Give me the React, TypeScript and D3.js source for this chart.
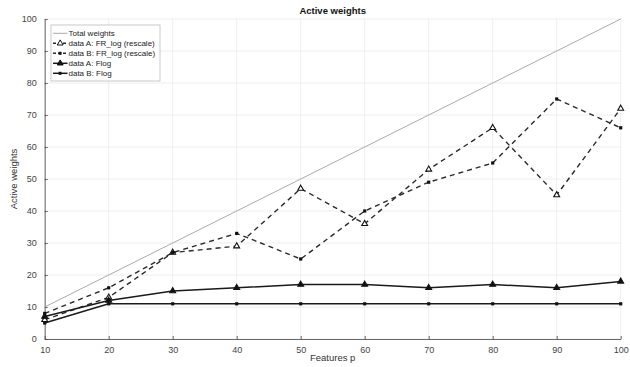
import { useEffect, useRef } from "react";
import * as d3 from "d3";

const features = [ 10, 20, 30, 40, 50, 60, 70, 80, 90, 100 ];
const totalWeights = [ 10, 20, 30, 40, 50, 60, 70, 80, 90, 100 ];
const frLogA = [ 6, 13, 27, 29, 47, 36, 53, 66, 45, 72 ];
const frLogB = [ 8, 16, 27, 33, 25, 40, 49, 55, 75, 66 ];
const flogA = [ 7, 12, 15, 16, 17, 17, 16, 17, 16, 18 ];
const flogB = [ 5, 11, 11, 11, 11, 11, 11, 11, 11, 11 ];
const xTicks = [ 10, 20, 30, 40, 50, 60, 70, 80, 90, 100 ];
const yTicks = [ 0, 10, 20, 30, 40, 50, 60, 70, 80, 90, 100 ];

interface Series
{
    name: string;
    values: number[];
    color: string;
    width: number;
    dash: string | null;
    marker: "none" | "triangle" | "dot";
}

const seriesList: Series[] = [
    { name: "Total weights", values: totalWeights, color: "#a0a0a0", width: 0.9, dash: null, marker: "none" },
    { name: "data A: FR_log (rescale)", values: frLogA, color: "#2a2a2a", width: 1.4, dash: "5,4", marker: "triangle" },
    { name: "data B: FR_log (rescale)", values: frLogB, color: "#2a2a2a", width: 1.4, dash: "5,4", marker: "dot" },
    { name: "data A: Flog", values: flogA, color: "#1a1a1a", width: 1.5, dash: null, marker: "triangle" },
    { name: "data B: Flog", values: flogB, color: "#1a1a1a", width: 1.5, dash: null, marker: "dot" },
];

const FONT = "Liberation Sans, Arial, sans-serif";

export default function App ()
{
    const svgRef = useRef<SVGSVGElement>( null );

    useEffect( () =>
    {
        if ( !svgRef.current ) return;
        const svg = d3.select( svgRef.current );
        svg.selectAll( "*" ).remove();

        const W = 630, H = 367;
        const m = { top: 19, right: 9.3, bottom: 28, left: 44.7 };
        const w = W - m.left - m.right;
        const h = H - m.top - m.bottom;

        svg.append( "rect" ).attr( "width", W ).attr( "height", H ).attr( "fill", "#fff" );
        const g = svg.append( "g" ).attr( "transform", `translate(${ m.left },${ m.top })` );

        const x = d3.scaleLinear().domain( [ 10, 100 ] ).range( [ 0, w ] );
        const y = d3.scaleLinear().domain( [ 0, 100 ] ).range( [ h, 0 ] );

        // Grid
        g.append( "g" ).selectAll( "line" ).data( yTicks ).join( "line" )
            .attr( "x1", 0 ).attr( "x2", w )
            .attr( "y1", ( d ) => y( d ) ).attr( "y2", ( d ) => y( d ) )
            .attr( "stroke", "#e8e8e8" ).attr( "stroke-width", 0.8 );
        g.append( "g" ).selectAll( "line" ).data( xTicks ).join( "line" )
            .attr( "x1", ( d ) => x( d ) ).attr( "x2", ( d ) => x( d ) )
            .attr( "y1", 0 ).attr( "y2", h )
            .attr( "stroke", "#e8e8e8" ).attr( "stroke-width", 0.8 );

        // Axes
        const xAxis = g.append( "g" ).attr( "transform", `translate(0,${ h })` )
            .call( d3.axisBottom( x ).tickValues( xTicks ).tickSizeInner( -3 ).tickSizeOuter( 0 ).tickPadding( 8 ) );
        const yAxis = g.append( "g" )
            .call( d3.axisLeft( y ).tickValues( yTicks ).tickSizeInner( -3 ).tickSizeOuter( 0 ).tickPadding( 8 ) );
        [ xAxis, yAxis ].forEach( ( a ) =>
        {
            a.select( ".domain" ).attr( "stroke", "#444" ).attr( "stroke-width", 0.8 );
            a.selectAll( ".tick line" ).attr( "stroke", "#444" ).attr( "stroke-width", 0.8 );
            a.selectAll( "text" ).attr( "fill", "#444" ).style( "font-size", "9px" ).style( "font-family", FONT );
        } );

        // Lines
        const lineGen = d3.line<number>().x( ( _d, i ) => x( features[ i ] ) ).y( ( d ) => y( d ) );
        const tri = d3.symbol().type( d3.symbolTriangle ).size( 15 );

        seriesList.forEach( ( s ) =>
        {
            g.append( "path" ).datum( s.values ).attr( "fill", "none" )
                .attr( "stroke", s.color ).attr( "stroke-width", s.width )
                .attr( "stroke-dasharray", s.dash ?? null ).attr( "d", lineGen );

            if ( s.marker === "triangle" )
            {
                g.append( "g" ).selectAll( "path" ).data( s.values ).join( "path" )
                    .attr( "transform", ( d, i ) => `translate(${ x( features[ i ] ) },${ y( d ) })` )
                    .attr( "d", tri() )
                    .attr( "fill", s.dash ? "#fff" : "#111" ).attr( "stroke", "#111" ).attr( "stroke-width", 1.1 );
            }
            else if ( s.marker === "dot" )
            {
                g.append( "g" ).selectAll( "rect" ).data( s.values ).join( "rect" )
                    .attr( "x", ( _d, i ) => x( features[ i ] ) - 1.6 ).attr( "y", ( d ) => y( d ) - 1.6 )
                    .attr( "width", 3.2 ).attr( "height", 3.2 ).attr( "fill", "#111" );
            }
        } );

        // Title and labels
        svg.append( "text" ).attr( "x", m.left + w / 2 ).attr( "y", 14 ).attr( "text-anchor", "middle" )
            .attr( "fill", "#111" ).style( "font-size", "9.5px" ).style( "font-weight", "bold" ).style( "font-family", FONT )
            .text( "Active weights" );
        svg.append( "text" ).attr( "x", m.left + w / 2 ).attr( "y", 361 ).attr( "text-anchor", "middle" )
            .attr( "fill", "#333" ).style( "font-size", "9.5px" ).style( "font-family", FONT )
            .text( "Features p" );
        svg.append( "text" ).attr( "transform", `translate(17,${ m.top + h / 2 }) rotate(-90)` ).attr( "text-anchor", "middle" )
            .attr( "fill", "#333" ).style( "font-size", "9.5px" ).style( "font-family", FONT )
            .text( "Active weights" );

        // Legend
        const lg = svg.append( "g" ).attr( "transform", "translate(51,25)" );
        lg.append( "rect" ).attr( "width", 109 ).attr( "height", 56 )
            .attr( "fill", "#fff" ).attr( "stroke", "#bbb" ).attr( "stroke-width", 0.8 );
        seriesList.forEach( ( s, i ) =>
        {
            const ly = 8.3 + i * 10;
            const row = lg.append( "g" ).attr( "transform", `translate(0,${ ly })` );
            row.append( "line" ).attr( "x1", 2 ).attr( "x2", 16.5 ).attr( "y1", 0 ).attr( "y2", 0 )
                .attr( "stroke", s.color ).attr( "stroke-width", s.width )
                .attr( "stroke-dasharray", s.dash ? "3,2" : null );
            if ( s.marker === "triangle" )
            {
                row.append( "path" ).attr( "transform", "translate(9.2,0)" ).attr( "d", tri() )
                    .attr( "fill", s.dash ? "#fff" : "#111" ).attr( "stroke", "#111" ).attr( "stroke-width", 1 );
            }
            else if ( s.marker === "dot" )
            {
                row.append( "rect" ).attr( "x", 7.6 ).attr( "y", -1.5 ).attr( "width", 3 ).attr( "height", 3 ).attr( "fill", "#111" );
            }
            row.append( "text" ).attr( "x", 17.5 ).attr( "y", 3 )
                .attr( "fill", "#222" ).style( "font-size", "8px" ).style( "font-family", FONT )
                .text( s.name );
        } );
    }, [] );

    return (
        <svg ref={ svgRef } width={ 630 } height={ 367 } style={ { position: "absolute", left: 0, top: 0 } } />
    );
}
